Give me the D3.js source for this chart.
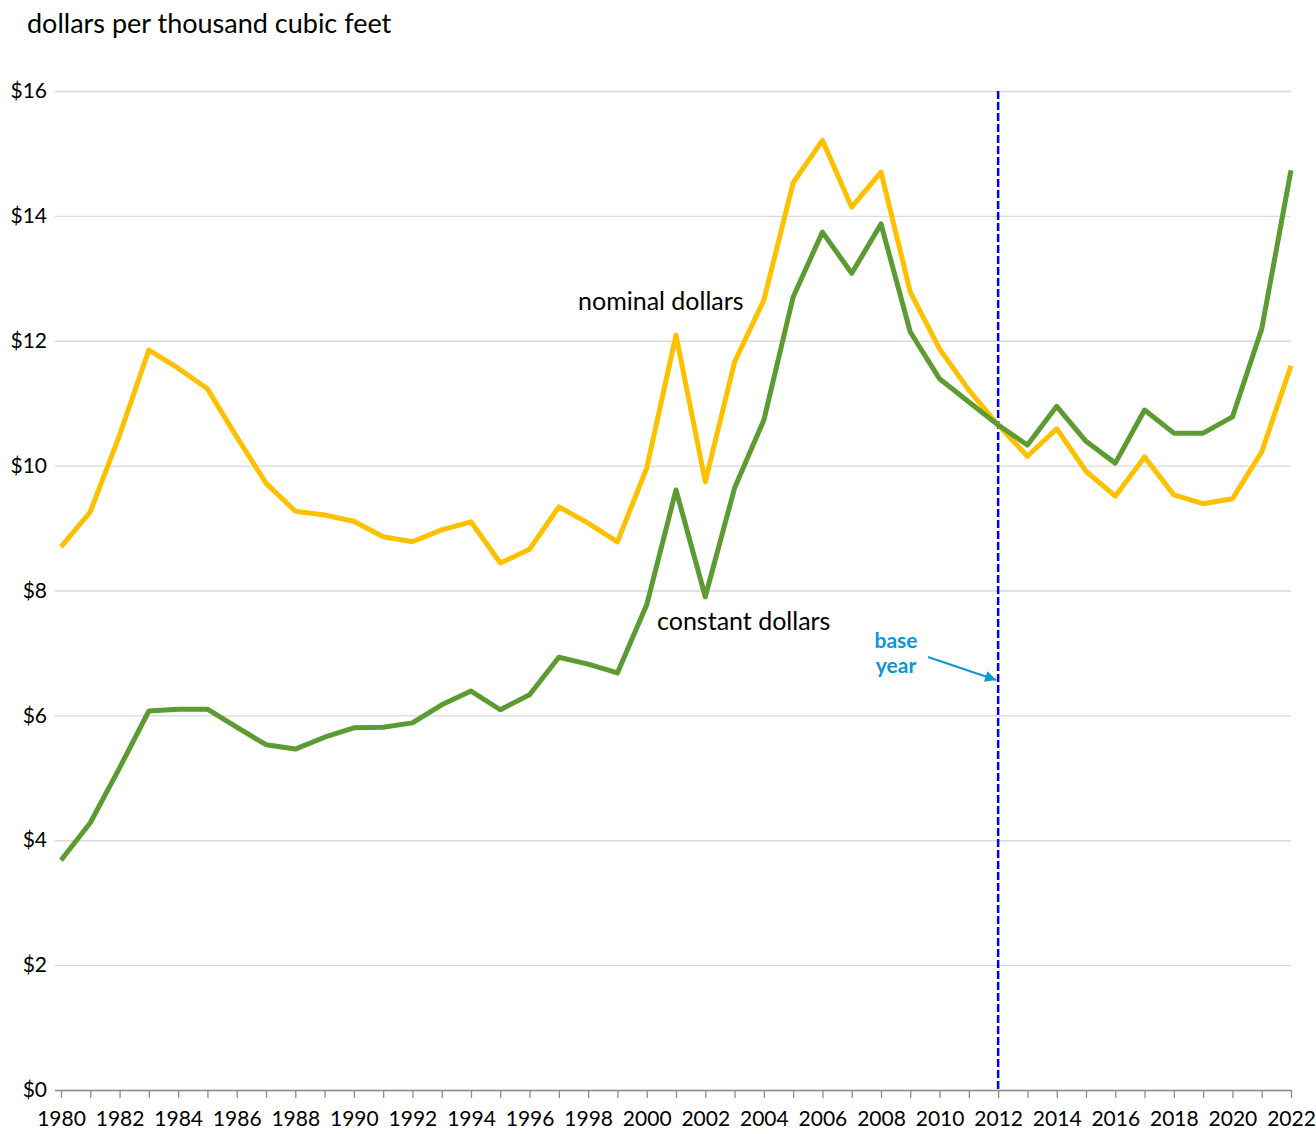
<!DOCTYPE html>
<html lang="en">
<head>
	<meta charset="utf-8">
	<title>Natural gas price, nominal and constant dollars</title>
	<script src="https://d3js.org/d3.v7.min.js" charset="utf-8"></script>
	<style>
	body {
		margin: 0;
		background: #ffffff;
		font-family: "Lato", "Open Sans", sans-serif;
	}
	.grid line {
		stroke: #d9d9d9;
		stroke-width: 1.3px;
	}
	.xaxis path, .xaxis line {
		stroke: #8c8c8c;
		stroke-width: 1.3px;
	}
	.tick text {
		fill: #000000;
		font-family: "Lato", "Open Sans", sans-serif;
		font-size: 21px;
	}
	</style>
</head>
<body>
<script>
	// chart data
	var years = d3.range(1980, 2023);

	var nominal = [8.70, 9.26, 10.49, 11.85, 11.56, 11.23, 10.46, 9.72, 9.27, 9.21,
		9.11, 8.86, 8.78, 8.97, 9.10, 8.44, 8.66, 9.34, 9.08, 8.78,
		9.96, 12.09, 9.74, 11.66, 12.65, 14.53, 15.21, 14.14, 14.70, 12.78,
		11.87, 11.21, 10.65, 10.15, 10.59, 9.91, 9.51, 10.14, 9.53, 9.39,
		9.47, 10.22, 11.60];

	var constant = [3.68, 4.28, 5.16, 6.07, 6.10, 6.10, 5.81, 5.53, 5.46, 5.65,
		5.80, 5.81, 5.88, 6.17, 6.39, 6.09, 6.33, 6.93, 6.82, 6.68,
		7.77, 9.61, 7.90, 9.64, 10.73, 12.70, 13.74, 13.08, 13.87, 12.14,
		11.39, 11.02, 10.65, 10.33, 10.95, 10.39, 10.04, 10.89, 10.52, 10.52,
		10.78, 12.19, 14.73];

	var yTicks = [0, 2, 4, 6, 8, 10, 12, 14, 16];
	var xLabels = d3.range(1980, 2023, 2);
	var baseYear = 2012;

	var width = 1316;
	var height = 1134;

	var svg = d3.select("body")
		.append("svg")
		.attr("width", width)
		.attr("height", height);

	var x = d3.scaleLinear()
		.domain([1980, 2022])
		.range([61, 1291]);

	var y = d3.scaleLinear()
		.domain([0, 16])
		.range([1090, 91]);

	// title / unit label
	svg.append("text")
		.attr("x", 27)
		.attr("y", 33)
		.style("font-size", "27px")
		.text("dollars per thousand cubic feet");

	// horizontal gridlines + y labels
	var yAxis = svg.append("g")
		.attr("class", "grid")
		.attr("transform", "translate(55,0)")
		.call(d3.axisLeft(y)
			.tickValues(yTicks)
			.tickSize(-1236)
			.tickPadding(8)
			.tickFormat(function(d) { return "$" + d; }));
	yAxis.select(".domain").remove();
	yAxis.selectAll(".tick text").attr("x", -8);

	// bottom axis: a tick every year, label every other year
	var xAxis = svg.append("g")
		.attr("class", "xaxis")
		.attr("transform", "translate(0,1090)")
		.call(d3.axisBottom(x)
			.tickValues(years)
			.tickSize(8)
			.tickSizeOuter(0)
			.tickPadding(10)
			.tickFormat(function(d) { return xLabels.indexOf(d) > -1 ? d : ""; }));
	xAxis.select(".domain").attr("d", "M55,0.5H1291");
	xAxis.selectAll(".tick text").attr("dy", "0.85em");

	// base year marker
	svg.append("line")
		.attr("x1", x(baseYear))
		.attr("x2", x(baseYear))
		.attr("y1", y(16))
		.attr("y2", y(0))
		.attr("stroke", "#0000ff")
		.attr("stroke-width", 2.5)
		.attr("stroke-dasharray", "8,3");

	var line = d3.line()
		.x(function(d, i) { return x(years[i]); })
		.y(function(d) { return y(d); });

	svg.append("path")
		.datum(nominal)
		.attr("fill", "none")
		.attr("stroke", "#ffc000")
		.attr("stroke-width", 5)
		.attr("stroke-linejoin", "round")
		.attr("d", line);

	svg.append("path")
		.datum(constant)
		.attr("fill", "none")
		.attr("stroke", "#5c9b32")
		.attr("stroke-width", 5)
		.attr("stroke-linejoin", "round")
		.attr("d", line);

	// series labels
	svg.append("text")
		.attr("x", 578)
		.attr("y", 310)
		.style("font-size", "25px")
		.text("nominal dollars");

	svg.append("text")
		.attr("x", 657)
		.attr("y", 630)
		.style("font-size", "25px")
		.text("constant dollars");

	// base year note with arrow
	svg.append("defs").append("marker")
		.attr("id", "arrow")
		.attr("viewBox", "0 0 10 10")
		.attr("refX", 10)
		.attr("refY", 5)
		.attr("markerWidth", 14)
		.attr("markerHeight", 11)
		.attr("markerUnits", "userSpaceOnUse")
		.attr("orient", "auto")
		.append("path")
		.attr("d", "M0,0L10,5L0,10Z")
		.attr("fill", "#0b96d6");

	svg.append("line")
		.attr("x1", 928)
		.attr("y1", 657)
		.attr("x2", x(baseYear) - 2)
		.attr("y2", 680)
		.attr("stroke", "#0b96d6")
		.attr("stroke-width", 2)
		.attr("marker-end", "url(#arrow)");

	// two separate lines of text so they don't collide
	svg.append("text")
		.attr("x", 896)
		.attr("y", 648)
		.attr("text-anchor", "middle")
		.attr("fill", "#0b96d6")
		.style("font-size", "21px")
		.style("font-weight", "bold")
		.text("base");

	svg.append("text")
		.attr("x", 896)
		.attr("y", 673)
		.attr("text-anchor", "middle")
		.attr("fill", "#0b96d6")
		.style("font-size", "21px")
		.style("font-weight", "bold")
		.text("year");
</script>
</body>
</html>
